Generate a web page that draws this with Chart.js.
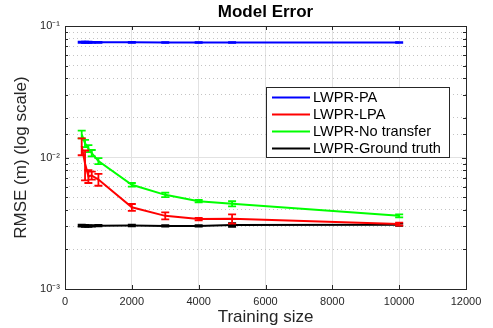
<!DOCTYPE html>
<html>
<head>
<meta charset="utf-8">
<script src="https://cdn.jsdelivr.net/npm/chart.js@4.4.0/dist/chart.umd.min.js"></script>
<style>
  html, body { margin: 0; padding: 0; background: #fff; }
  #wrap { width: 493px; height: 328px; }
</style>
</head>
<body>
<div id="wrap"><canvas id="errorChart" width="493" height="328"></canvas></div>
<script>
const trainingSizes = [500, 600, 700, 800, 1000, 2000, 3000, 4000, 5000, 10000];

// mean RMSE per training size, with half-width of the error bar
const paMean = [0.0752, 0.0752, 0.0752, 0.0751, 0.0751, 0.0751, 0.0750, 0.0750, 0.0750, 0.0750];
const paErr = [0.0008, 0.0008, 0.0007, 0.0007, 0.0006, 0.0006, 0.0005, 0.0005, 0.0005, 0.0005];

const lpaMean = [0.0122, 0.0090, 0.0072, 0.0073, 0.0068, 0.00418, 0.0036, 0.0034, 0.00342, 0.00312];
const lpaErr = [0.0018, 0.0023, 0.0008, 0.0005, 0.0007, 0.00025, 0.00022, 0.00008, 0.00028, 0.00008];

const noTransferMean = [0.0150, 0.0128, 0.0117, 0.0108, 0.0094, 0.0062, 0.0052, 0.00465, 0.00445, 0.0036];
const noTransferErr = [0.0010, 0.0008, 0.0007, 0.0006, 0.0005, 0.0002, 0.0002, 0.0001, 0.0002, 0.0001];

const groundTruthMean = [0.00303, 0.00302, 0.00301, 0.00302, 0.00303, 0.00304, 0.00302, 0.00302, 0.00307, 0.00308];
const groundTruthErr = [0.00005, 0.00005, 0.00004, 0.00004, 0.00004, 0.00004, 0.00004, 0.00004, 0.0001, 0.00006];

const seriesLabels = ['LWPR-PA', 'LWPR-LPA', 'LWPR-No transfer', 'LWPR-Ground truth'];
const seriesColors = ['#0000ff', '#ff0000', '#00ff00', '#000000'];

const xTicks = [0, 2000, 4000, 6000, 8000, 10000, 12000];
const yDecadeLabels = { '-1': '10⁻¹', '-2': '10⁻²', '-3': '10⁻³' };

const axisColor = '#262626';
const fontFamily = '"Liberation Sans", Arial, sans-serif';

function isDecade(v) {
    if (v === undefined) return false;
    const e = Math.log10(v);
    return Math.abs(e - Math.round(e)) < 1e-9;
}

function toPoints(means) {
    return trainingSizes.map((x, i) => ({ x: x, y: means[i] }));
}

const allMeans = [paMean, lpaMean, noTransferMean, groundTruthMean];
const allErrs = [paErr, lpaErr, noTransferErr, groundTruthErr];

const datasets = seriesLabels.map((label, i) => ({
    label: label,
    data: toPoints(allMeans[i]),
    errors: allErrs[i],
    borderColor: seriesColors[i],
    backgroundColor: seriesColors[i],
    borderWidth: 2,
    pointRadius: 0,
    tension: 0,
    fill: false
}));

// vertical error bars with small caps, drawn right after each series
const errorBars = {
    id: 'errorBars',
    afterDatasetDraw(chart, args) {
        const ds = chart.data.datasets[args.index];
        const yScale = chart.scales.y;
        const ctx = chart.ctx;
        ctx.save();
        ctx.strokeStyle = ds.borderColor;
        ctx.lineWidth = 1.8;
        args.meta.data.forEach((pt, j) => {
            const v = ds.data[j].y;
            const e = ds.errors[j];
            const top = yScale.getPixelForValue(v + e);
            const bot = yScale.getPixelForValue(v - e);
            const cap = 4;
            ctx.beginPath();
            ctx.moveTo(pt.x, top);
            ctx.lineTo(pt.x, bot);
            ctx.moveTo(pt.x - cap, top);
            ctx.lineTo(pt.x + cap, top);
            ctx.moveTo(pt.x - cap, bot);
            ctx.lineTo(pt.x + cap, bot);
            ctx.stroke();
        });
        ctx.restore();
    }
};

// axes box with inward tick marks on all four sides
const axesBox = {
    id: 'axesBox',
    afterDatasetsDraw(chart) {
        const { ctx, chartArea: a, scales } = chart;
        ctx.save();
        ctx.strokeStyle = axisColor;
        ctx.lineWidth = 1;
        ctx.beginPath();
        scales.x.ticks.forEach(t => {
            const px = Math.round(scales.x.getPixelForValue(t.value)) + 0.5;
            ctx.moveTo(px, a.bottom);
            ctx.lineTo(px, a.bottom - 4);
            ctx.moveTo(px, a.top);
            ctx.lineTo(px, a.top + 4);
        });
        scales.y.ticks.forEach(t => {
            const py = Math.round(scales.y.getPixelForValue(t.value)) + 0.5;
            const len = isDecade(t.value) ? 4 : 3;
            ctx.moveTo(a.left, py);
            ctx.lineTo(a.left + len, py);
            ctx.moveTo(a.right, py);
            ctx.lineTo(a.right - len, py);
        });
        ctx.stroke();
        ctx.strokeRect(Math.round(a.left) + 0.5, Math.round(a.top) + 0.5,
            Math.round(a.right - a.left), Math.round(a.bottom - a.top));
        ctx.restore();
    }
};

// boxed legend in the upper right of the plot
const boxLegend = {
    id: 'boxLegend',
    afterDraw(chart, args, opts) {
        const { ctx, chartArea: a } = chart;
        const x0 = a.right - opts.offsetRight - opts.width;
        const y0 = a.top + opts.offsetTop;
        ctx.save();
        ctx.fillStyle = '#ffffff';
        ctx.fillRect(x0, y0, opts.width, opts.height);
        ctx.strokeStyle = axisColor;
        ctx.lineWidth = 1;
        ctx.strokeRect(Math.round(x0) + 0.5, Math.round(y0) + 0.5, opts.width, opts.height);
        ctx.font = '14.6px ' + fontFamily;
        ctx.textBaseline = 'middle';
        chart.data.datasets.forEach((ds, i) => {
            const cy = y0 + 10.5 + i * 17;
            ctx.strokeStyle = ds.borderColor;
            ctx.lineWidth = 2;
            ctx.beginPath();
            ctx.moveTo(x0 + 6, cy);
            ctx.lineTo(x0 + 44, cy);
            ctx.stroke();
            ctx.fillStyle = '#000000';
            ctx.fillText(ds.label, x0 + 47, cy + 0.5);
        });
        ctx.restore();
    }
};

const ctx = document.getElementById('errorChart');

new Chart(ctx, {
    type: 'line',
    data: { datasets: datasets },
    plugins: [errorBars, axesBox, boxLegend],
    options: {
        responsive: false,
        animation: false,
        devicePixelRatio: 1,
        layout: { padding: { left: 0, right: 27, top: 0, bottom: 0 } },
        plugins: {
            legend: { display: false },
            tooltip: { enabled: false },
            title: {
                display: true,
                text: 'Model Error',
                fullSize: false,
                color: '#000000',
                font: { family: fontFamily, size: 17, weight: 'bold', lineHeight: 1.2 },
                padding: { top: 2, bottom: 3.6 }
            },
            boxLegend: { width: 183, height: 70, offsetRight: 17, offsetTop: 61 }
        },
        scales: {
            x: {
                type: 'linear',
                min: 0,
                max: 12000,
                afterBuildTicks: scale => { scale.ticks = xTicks.map(v => ({ value: v })); },
                afterFit: scale => { scale.height = 39; },
                ticks: {
                    color: axisColor,
                    font: { family: fontFamily, size: 11 },
                    padding: 6,
                    maxRotation: 0,
                    callback: value => String(value)
                },
                grid: { color: '#e2e2e2', drawTicks: false },
                border: { display: false },
                title: {
                    display: true,
                    text: 'Training size',
                    color: axisColor,
                    font: { family: fontFamily, size: 17 },
                    padding: { top: 0, bottom: 0 }
                }
            },
            y: {
                type: 'logarithmic',
                min: 0.001,
                max: 0.1,
                afterFit: scale => { scale.width = 65; },
                ticks: {
                    autoSkip: false,
                    color: axisColor,
                    font: { family: fontFamily, size: 11 },
                    padding: 5,
                    callback: value => isDecade(value) ? yDecadeLabels[String(Math.round(Math.log10(value)))] : ''
                },
                grid: {
                    drawTicks: false,
                    color: c => isDecade(c.tick && c.tick.value) ? '#e2e2e2' : '#c4c4c4'
                },
                border: {
                    display: false,
                    dash: c => (c.tick && !isDecade(c.tick.value)) ? [1, 3] : []
                },
                title: {
                    display: true,
                    text: 'RMSE (m) (log scale)',
                    color: axisColor,
                    font: { family: fontFamily, size: 17 },
                    padding: { top: 11, bottom: 0 }
                }
            }
        }
    }
});
</script>
</body>
</html>
